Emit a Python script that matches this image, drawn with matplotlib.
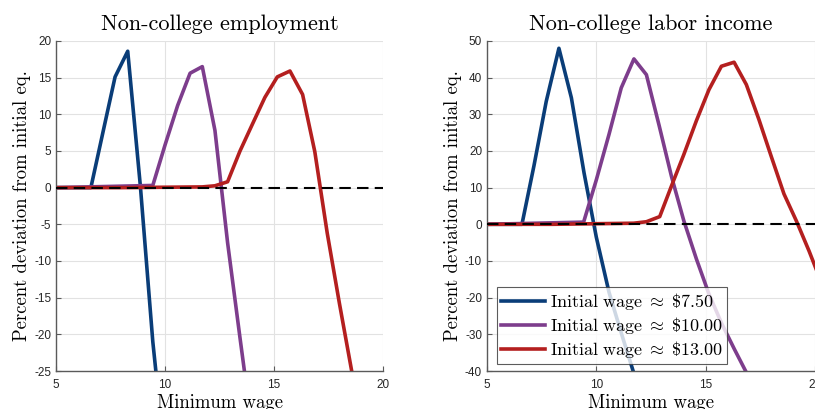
import numpy as np
import matplotlib
matplotlib.use('Agg')
import matplotlib.pyplot as plt

# minimum wage grid points and percent deviations for each initial wage level
emp_x_750 = [5.0, 6.6, 7.15, 7.71, 8.29, 8.87, 9.44, 10.0]
emp_y_750 = [0.0, 0.0, 7.5, 15.1, 18.6, 0.2, -21.0, -37.0]
emp_x_1000 = [5.0, 9.44, 10.0, 10.58, 11.15, 11.71, 12.29, 12.87, 13.44, 14.0]
emp_y_1000 = [0.0, 0.3, 5.8, 11.2, 15.6, 16.5, 7.8, -7.5, -20.5, -33.0]
emp_x_1300 = [5.0, 8.0, 11.71, 12.29, 12.87, 13.44, 14.0, 14.58, 15.15, 15.73,
              16.31, 16.87, 17.44, 18.0, 18.58, 19.15]
emp_y_1300 = [0.0, 0.0, 0.1, 0.25, 0.8, 5.0, 8.6, 12.3, 15.1, 15.9,
              12.7, 4.9, -6.2, -15.8, -25.3, -35.0]

inc_x_750 = [5.0, 6.6, 7.15, 7.71, 8.29, 8.86, 9.44, 10.0, 10.58, 11.15, 11.71, 12.29]
inc_y_750 = [0.0, 0.0, 16.0, 33.5, 48.0, 34.5, 14.0, -3.5, -18.5, -29.8, -40.5, -50.0]
inc_x_1000 = [5.0, 9.42, 10.0, 10.58, 11.14, 11.72, 12.29, 12.87, 13.44, 14.0,
              14.58, 15.15, 15.73, 16.31, 16.87, 17.44]
inc_y_1000 = [0.0, 0.6, 12.1, 24.5, 37.2, 45.1, 40.8, 27.0, 13.0, 1.0,
              -9.5, -19.0, -27.0, -34.0, -40.5, -47.0]
inc_x_1300 = [5.0, 8.0, 11.71, 12.29, 12.9, 13.44, 14.0, 14.58, 15.15, 15.72,
              16.3, 16.86, 17.44, 18.0, 18.58, 19.15, 19.73, 20.3]
inc_y_1300 = [0.0, 0.0, 0.3, 0.7, 2.1, 10.5, 19.0, 28.3, 36.7, 43.1,
              44.2, 38.1, 28.5, 18.5, 8.3, 0.9, -7.3, -16.0]

labels = [r'$\mathrm{Initial\ wage}\;\approx\;\$7.50$',
          r'$\mathrm{Initial\ wage}\;\approx\;\$10.00$',
          r'$\mathrm{Initial\ wage}\;\approx\;\$13.00$']
colors = ['#0a3d78', '#7d3d8c', '#b41f1f']

plt.rcParams['mathtext.fontset'] = 'cm'
plt.rcParams['axes.unicode_minus'] = False
serif = 'cmr10'

fig = plt.figure(figsize=(8.15, 4.09), dpi=100)
ax1 = fig.add_axes([0.0687, 0.0929, 0.4013, 0.807])
ax2 = fig.add_axes([0.5975, 0.0929, 0.4025, 0.807])


def style_axis(ax, yticks):
    ax.set_xlim(5, 20)
    ax.set_xticks([5, 10, 15, 20])
    ax.set_ylim(yticks[0], yticks[-1])
    ax.set_yticks(yticks)
    ax.grid(True, color='#e2e2e2', lw=0.8)
    ax.set_axisbelow(True)
    for s in ['top', 'right']:
        ax.spines[s].set_visible(False)
    for s in ['left', 'bottom']:
        ax.spines[s].set_color('#5a5a5a')
        ax.spines[s].set_linewidth(1.0)
    ax.tick_params(direction='in', length=3.5, width=0.8, color='#5a5a5a',
                   labelsize=8.5, labelcolor='#262626')
    ax.tick_params(axis='x', pad=6)
    for lab in ax.get_xticklabels() + ax.get_yticklabels():
        lab.set_family('Liberation Sans')
    ax.set_xlabel('Minimum wage', family=serif, fontsize=13.5, labelpad=2)
    ax.set_ylabel('Percent deviation from initial eq.', family=serif,
                  fontsize=13.5, labelpad=2)
    ax.axhline(0, color='black', lw=1.5, dashes=(5.5, 3), zorder=5)


lw = 2.6
ax1.plot(emp_x_750, emp_y_750, color=colors[0], lw=lw)
ax1.plot(emp_x_1000, emp_y_1000, color=colors[1], lw=lw)
ax1.plot(emp_x_1300, emp_y_1300, color=colors[2], lw=lw)
style_axis(ax1, list(range(-25, 21, 5)))
ax1.set_title('Non-college employment', family=serif, fontsize=16, pad=8)

ax2.plot(inc_x_750, inc_y_750, color=colors[0], lw=lw, label=labels[0])
ax2.plot(inc_x_1000, inc_y_1000, color=colors[1], lw=lw, label=labels[1])
ax2.plot(inc_x_1300, inc_y_1300, color=colors[2], lw=lw, label=labels[2])
style_axis(ax2, list(range(-40, 51, 10)))
ax2.set_title('Non-college labor income', family=serif, fontsize=16, pad=8)

leg = ax2.legend(loc='lower left', bbox_to_anchor=(0.03, 0.02), fontsize=13,
                 frameon=True, fancybox=False, edgecolor='#333333',
                 handlelength=2.4, handletextpad=0.3, borderpad=0.25,
                 labelspacing=0.15, borderaxespad=0)
leg.get_frame().set_linewidth(0.8)
leg.set_zorder(10)

fig.savefig('out.png', dpi=100)
